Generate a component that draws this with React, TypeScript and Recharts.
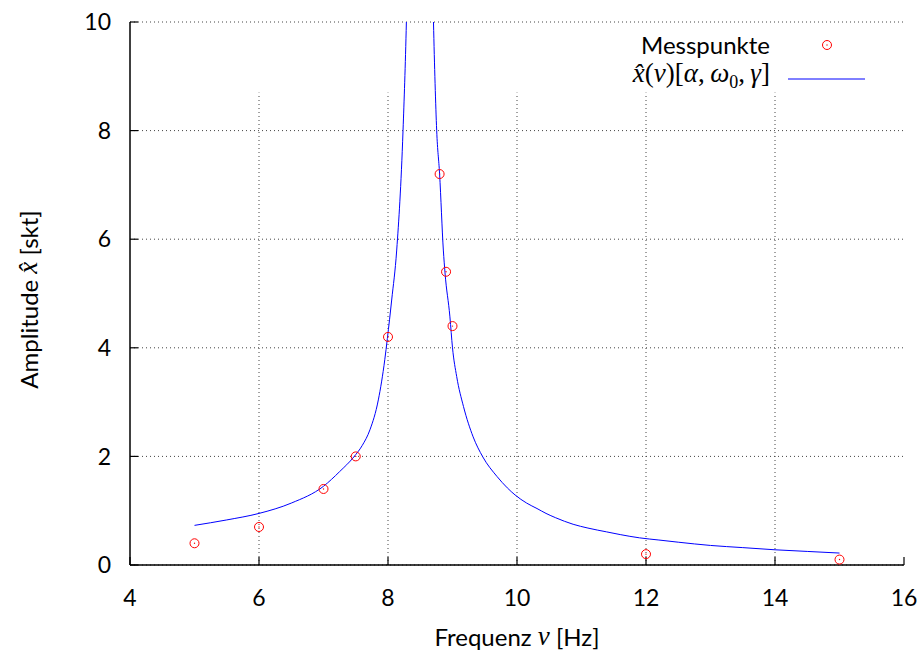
import {
  ComposedChart, Line, Scatter, XAxis, YAxis, CartesianGrid,
  ReferenceLine, Legend,
} from "recharts";

// Messpunkte
const messNu = [5, 6, 7, 7.5, 8, 8.8, 8.9, 9, 12, 15];
const messAmp = [0.4, 0.7, 1.4, 2.0, 4.2, 7.2, 5.4, 4.4, 0.2, 0.1];

// Fitkurve (Spitze oberhalb 10 geschaetzt, wird abgeschnitten)
const fitNu = [
  5.0, 5.5, 6.0, 6.5, 7.0, 7.25, 7.47, 7.6, 7.72, 7.85, 7.95, 7.99, 8.057, 8.135,
  8.233, 8.285, 8.32, 8.4, 8.5, 8.6, 8.67, 8.705, 8.755, 8.8, 8.858, 8.884,
  8.96, 9.0, 9.065, 9.17, 9.32, 9.47, 9.69, 9.85, 9.97, 10.15, 10.31, 10.45,
  10.6, 10.87, 11.1, 11.39, 11.6, 11.9, 12.2, 12.5, 13.0, 13.5, 14.0, 14.5, 15.0,
];
const fitAmp = [
  0.73, 0.83, 0.95, 1.14, 1.45, 1.72, 1.99, 2.2, 2.49, 3.04, 3.78, 4.17, 4.88, 5.8,
  8.0, 10.0, 12, 18, 25, 18, 12, 10.0, 8.0, 7.2, 5.8, 5.38,
  4.57, 4.0, 3.47, 2.92, 2.36, 1.99, 1.63, 1.42, 1.29, 1.14, 1.04, 0.95,
  0.87, 0.75, 0.68, 0.61, 0.56, 0.5, 0.46, 0.42, 0.36, 0.32, 0.28, 0.25, 0.22,
];

const xTicks = [4, 6, 8, 10, 12, 14, 16];
const yTicks = [0, 2, 4, 6, 8, 10];
const gridX = [6, 8, 10, 12, 14];
const gridTop = 8.7;

const points = messNu.map((x, i) => ({ x, y: messAmp[i] }));
const curve = fitNu.map((x, i) => ({ x, y: fitAmp[i] }));

const FONT = "Lato, 'DejaVu Sans', sans-serif";
const MATH = "'Liberation Serif', 'DejaVu Serif', serif";
const FS = 23;

const Ring = (props: any) => {
  const { cx, cy } = props;
  return (
    <g>
      <circle cx={cx} cy={cy} r={4.5} fill="none" stroke="#ff0000" strokeWidth={1} />
      <circle cx={cx} cy={cy} r={0.7} fill="#ff0000" />
    </g>
  );
};

const YLabel = (props: any) => {
  const { viewBox } = props;
  const cx = 28;
  const cy = viewBox.y + viewBox.height / 2 + 6;
  return (
    <text
      x={cx} y={cy} textAnchor="middle" dominantBaseline="central"
      transform={`rotate(-90 ${cx} ${cy})`}
      fontSize={24} fontFamily={FONT} fill="#000"
    >
      Amplitude <tspan fontFamily={MATH} fontStyle="italic" fontSize={27}>x̂</tspan> [skt]
    </text>
  );
};

const XLabel = (props: any) => {
  const { viewBox } = props;
  const cx = viewBox.x + viewBox.width / 2;
  const cy = 636;
  return (
    <text
      x={cx} y={cy} textAnchor="middle" dominantBaseline="central"
      fontSize={24} fontFamily={FONT} fill="#000"
    >
      Frequenz <tspan fontFamily={MATH} fontStyle="italic" fontSize={27}>ν</tspan> [Hz]
    </text>
  );
};

const LegendBox = () => (
  <div style={{ fontFamily: FONT, fontSize: 24, color: "#000", lineHeight: "29px" }}>
    <div style={{ display: "flex", alignItems: "center" }}>
      <span style={{ width: 160, textAlign: "right" }}>Messpunkte</span>
      <svg width={95} height={29}>
        <circle cx={57} cy={15} r={4.5} fill="none" stroke="#ff0000" />
        <circle cx={57} cy={15} r={0.7} fill="#ff0000" />
      </svg>
    </div>
    <div style={{ display: "flex", alignItems: "center", justifyContent: "flex-end", width: 255 }}>
      <span style={{ textAlign: "right", fontFamily: MATH, fontSize: 27, whiteSpace: "nowrap" }}>
        <i>x̂</i>(<i>ν</i>)[<i>α</i>,&thinsp;<i>ω</i><sub style={{ fontSize: 18, fontStyle: "normal" }}>0</sub>,&thinsp;<i>γ</i>]
      </span>
      <svg width={95} height={29}>
        <line x1={18} x2={95} y1={15} y2={15} stroke="#0000ff" strokeWidth={1} />
      </svg>
    </div>
  </div>
);

export default function App() {
  const tick = { fontSize: FS, fill: "#000", fontFamily: FONT };
  return (
    <div style={{ position: "absolute", left: 0, top: 0, background: "#fff" }}>
      <ComposedChart
        width={921} height={652}
        margin={{ top: 22, right: 17, left: 0, bottom: 0 }}
        style={{ fontFamily: FONT }}
      >
        <CartesianGrid
          horizontal vertical={false}
          stroke="#444" strokeDasharray="1 3" strokeWidth={1}
        />
        <XAxis
          dataKey="x" type="number" domain={[4, 16]} ticks={xTicks}
          allowDataOverflow height={87}
          tick={tick} tickSize={-8} tickMargin={33}
          axisLine={{ stroke: "#000", strokeWidth: 1.5 }}
          tickLine={{ stroke: "#000", strokeWidth: 1.2 }}
          label={<XLabel />}
        />
        <XAxis
          xAxisId="top" orientation="top" dataKey="x" type="number"
          domain={[4, 16]} ticks={xTicks} height={0}
          tick={false} tickSize={-8}
          axisLine={{ stroke: "#000", strokeWidth: 1.5 }}
          tickLine={{ stroke: "#000", strokeWidth: 1.2 }}
        />
        <YAxis
          type="number" domain={[0, 10]} ticks={yTicks} allowDataOverflow
          width={130} tick={tick} tickSize={-8} tickMargin={27}
          axisLine={{ stroke: "#000", strokeWidth: 1.5 }}
          tickLine={{ stroke: "#000", strokeWidth: 1.2 }}
          label={<YLabel />}
        />
        <YAxis
          yAxisId="right" orientation="right" type="number" domain={[0, 10]}
          ticks={yTicks} width={0} tick={false} tickSize={-8}
          axisLine={{ stroke: "#000", strokeWidth: 1.5 }}
          tickLine={{ stroke: "#000", strokeWidth: 1.2 }}
        />
        {gridX.map((g) => (
          <ReferenceLine
            key={g}
            segment={[{ x: g, y: 0 }, { x: g, y: gridTop }]}
            stroke="#444" strokeDasharray="1 3" strokeWidth={1}
          />
        ))}
        <Line
          data={curve} dataKey="y" type="monotone"
          stroke="#0000ff" strokeWidth={1} dot={false} activeDot={false}
          isAnimationActive={false}
        />
        <Scatter
          data={points} dataKey="y" shape={<Ring />}
          isAnimationActive={false}
        />
        <Legend
          layout="vertical" align="center" verticalAlign="middle"
          content={<LegendBox />}
          wrapperStyle={{ position: "absolute", left: 610, top: 30, width: 260 }}
        />
      </ComposedChart>
    </div>
  );
}
